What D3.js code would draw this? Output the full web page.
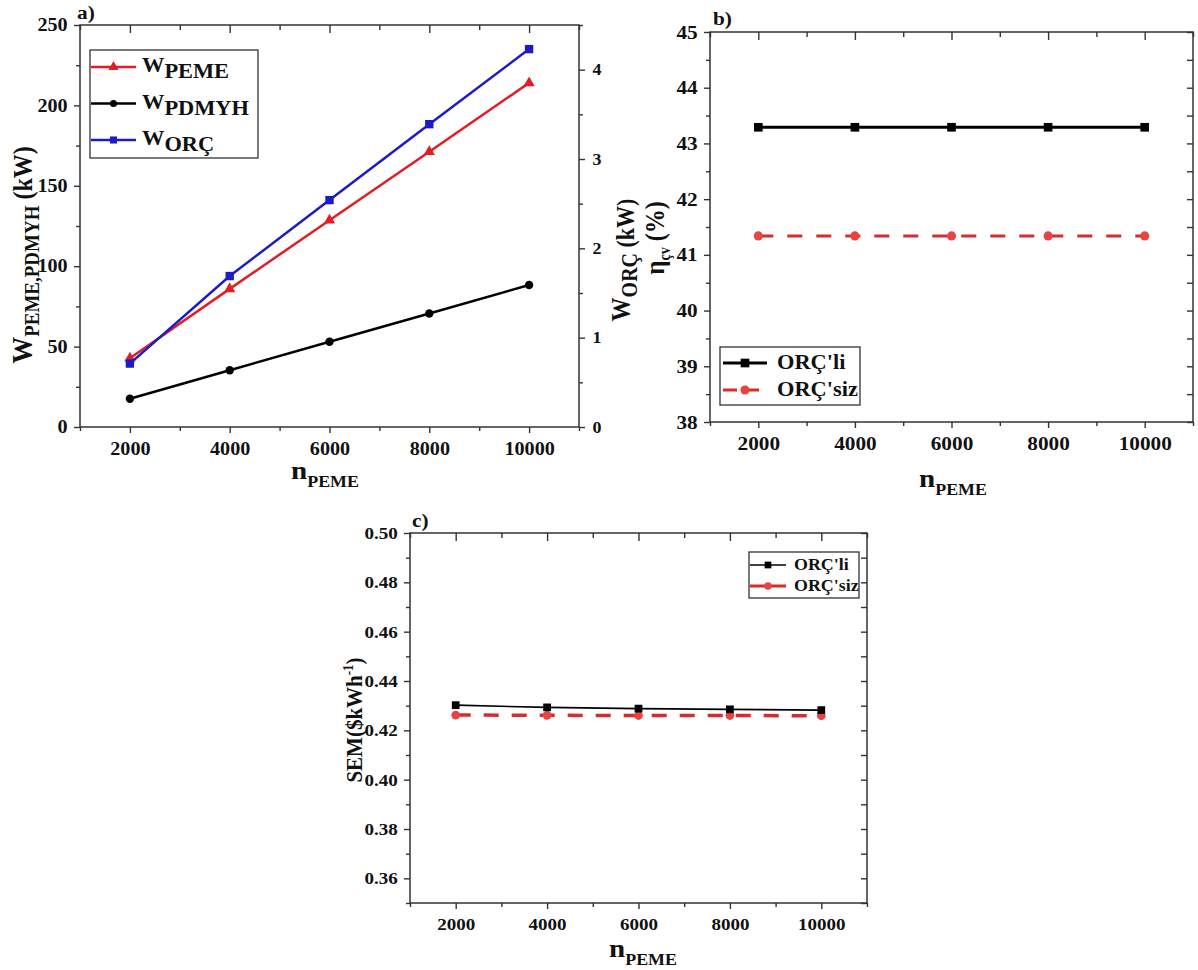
<!DOCTYPE html>
<html>
<head>
<meta charset="utf-8">
<script src="https://cdn.jsdelivr.net/npm/d3@7"></script>
<style>
    body { margin: 0; background: #fff; }
    svg { display: block; }
    text { font-family: "Liberation Serif", "Times New Roman", serif; font-weight: bold; fill: #111; }
    .axis line { stroke: #333; stroke-width: 1.4; }
    .frame { fill: none; stroke: #333; stroke-width: 1.5; }
</style>
</head>
<body>
<svg id="chart" width="1198" height="970"></svg>
<script>
// data
const nPeme = [2000, 4000, 6000, 8000, 10000];

const wPeme = [42.8, 85.9, 128.6, 171.2, 214.0];
const wPdmyh = [17.6, 35.3, 53.0, 70.6, 88.3];
const wOrc = [0.71, 1.69, 2.54, 3.39, 4.23];

const etaOrcLi = [43.29, 43.29, 43.29, 43.29, 43.29];
const etaOrcSiz = [41.34, 41.34, 41.34, 41.34, 41.34];

const semOrcLi = [0.4302, 0.4293, 0.4288, 0.4285, 0.4282];
const semOrcSiz = [0.4262, 0.4261, 0.4260, 0.4260, 0.4259];

// ticks
const xMajor = [2000, 4000, 6000, 8000, 10000];
const xMinor = [1000, 3000, 5000, 7000, 9000, 11000];
const aLeftMajor = [0, 50, 100, 150, 200, 250];
const aLeftMinor = [25, 75, 125, 175, 225];
const aRightMajor = [0, 1, 2, 3, 4];
const aRightMinor = [0.5, 1.5, 2.5, 3.5, 4.5];
const bMajor = [38, 39, 40, 41, 42, 43, 44, 45];
const bMinor = [38.5, 39.5, 40.5, 41.5, 42.5, 43.5, 44.5];
const cMajor = [0.36, 0.38, 0.40, 0.42, 0.44, 0.46, 0.48, 0.50];
const cMinor = [0.35, 0.37, 0.39, 0.41, 0.43, 0.45, 0.47, 0.49];

const RED = '#e21e24';
const RED_LIGHT = '#e84444';
const BLUE = '#1b1bc8';
const SERIF = '"Liberation Serif", "Times New Roman", serif';
const STRETCH = 1.12;

const svg = d3.select('#chart');

// text made of parts (main / subscript / superscript)
function addText(parent, x, y, parts, opts = {}) {
    const tf = opts.rotate
        ? `translate(${x},${y}) rotate(-90) scale(1,${STRETCH})`
        : `translate(${x},${y}) scale(${STRETCH},1)`;
    const t = parent.append('g').attr('transform', tf)
        .append('text').attr('text-anchor', opts.anchor || 'start');
    parts.forEach(p => {
        t.append('tspan').attr('font-size', p.size).attr('dy', p.dy || 0).text(p.t);
    });
    return t;
}

function styleTicks(sel, size) {
    sel.attr('font-family', SERIF).attr('font-weight', 'bold');
    sel.select('.domain').remove();
    sel.selectAll('text')
        .attr('font-size', size)
        .attr('fill', '#111')
        .attr('transform', `scale(${STRETCH},1)`);
}

function drawAxes(g, x, y, cfg) {
    const [x0, x1] = x.range();
    const [y0, y1] = y.range();
    const fmtX = d3.format('d');

    // bottom, outward
    g.append('g').attr('class', 'axis').attr('transform', `translate(0,${y0})`)
        .call(d3.axisBottom(x).tickValues(xMinor).tickSize(4).tickFormat(''))
        .call(s => styleTicks(s, cfg.font));
    g.append('g').attr('class', 'axis').attr('transform', `translate(0,${y0})`)
        .call(d3.axisBottom(x).tickValues(xMajor).tickSize(6).tickPadding(9).tickFormat(fmtX))
        .call(s => styleTicks(s, cfg.font));

    // top, inward
    g.append('g').attr('class', 'axis').attr('transform', `translate(0,${y1})`)
        .call(d3.axisTop(x).tickValues(xMinor).tickSize(-5).tickFormat(''))
        .call(s => styleTicks(s, cfg.font));
    g.append('g').attr('class', 'axis').attr('transform', `translate(0,${y1})`)
        .call(d3.axisTop(x).tickValues(xMajor).tickSize(-8).tickFormat(''))
        .call(s => styleTicks(s, cfg.font));

    // left, outward
    g.append('g').attr('class', 'axis').attr('transform', `translate(${x0},0)`)
        .call(d3.axisLeft(y).tickValues(cfg.yMinor).tickSize(4).tickFormat(''))
        .call(s => styleTicks(s, cfg.font));
    g.append('g').attr('class', 'axis').attr('transform', `translate(${x0},0)`)
        .call(d3.axisLeft(y).tickValues(cfg.yMajor).tickSize(6).tickPadding(5).tickFormat(cfg.yFormat))
        .call(s => styleTicks(s, cfg.font));

    // right side
    if (cfg.y2) {
        g.append('g').attr('class', 'axis').attr('transform', `translate(${x1},0)`)
            .call(d3.axisRight(cfg.y2).tickValues(aRightMinor).tickSize(4).tickFormat(''))
            .call(s => styleTicks(s, cfg.font));
        g.append('g').attr('class', 'axis').attr('transform', `translate(${x1},0)`)
            .call(d3.axisRight(cfg.y2).tickValues(aRightMajor).tickSize(6).tickPadding(6).tickFormat(d3.format('d')))
            .call(s => styleTicks(s, cfg.font - 2));
    } else {
        g.append('g').attr('class', 'axis').attr('transform', `translate(${x1},0)`)
            .call(d3.axisRight(y).tickValues(cfg.yMajor.concat(cfg.yMinor)).tickSize(-6).tickFormat(''))
            .call(s => styleTicks(s, cfg.font));
    }

    g.append('rect').attr('class', 'frame')
        .attr('x', x0).attr('y', y1)
        .attr('width', x1 - x0).attr('height', y0 - y1);
}

function drawSeries(g, x, y, values, s) {
    const pts = d3.zip(nPeme, values);
    g.append('path')
        .datum(pts)
        .attr('fill', 'none')
        .attr('stroke', s.color)
        .attr('stroke-width', s.width)
        .attr('stroke-dasharray', s.dash || null)
        .attr('d', d3.line().x(d => x(d[0])).y(d => y(d[1])));
    g.selectAll(null)
        .data(pts)
        .join('path')
        .attr('transform', d => `translate(${x(d[0])},${y(d[1])})`)
        .attr('fill', s.markColor || s.color)
        .attr('d', d3.symbol().type(s.symbol).size(s.size));
}

function drawLegend(g, box, rows) {
    g.append('rect')
        .attr('x', box.x).attr('y', box.y)
        .attr('width', box.w).attr('height', box.h)
        .attr('fill', '#fff').attr('stroke', '#333').attr('stroke-width', 1.3);
    rows.forEach((r, i) => {
        const cy = box.y + box.first + i * box.step;
        g.append('line')
            .attr('x1', box.x + box.lx0).attr('x2', box.x + box.lx1)
            .attr('y1', cy).attr('y2', cy)
            .attr('stroke', r.color).attr('stroke-width', r.width)
            .attr('stroke-dasharray', r.dash || null);
        g.append('path')
            .attr('transform', `translate(${box.x + (box.lx0 + box.lx1) / 2},${cy})`)
            .attr('fill', r.markColor || r.color)
            .attr('d', d3.symbol().type(r.symbol).size(r.size));
        addText(g, box.x + box.tx, cy + box.base, r.parts);
    });
}

// ---------- panel a ----------
const ga = svg.append('g');
const xa = d3.scaleLinear().domain([1000, 11000]).range([80, 579]);
const ya = d3.scaleLinear().domain([0, 250]).range([427, 25]);
const ya2 = d3.scaleLinear().domain([0, 4.5]).range([427, 25]);

drawAxes(ga, xa, ya, { yMajor: aLeftMajor, yMinor: aLeftMinor, y2: ya2, font: 18, yFormat: d3.format('d') });

const seriesA = [
    { values: wPeme, y: ya, color: RED, width: 2.5, symbol: d3.symbolTriangle, size: 55 },
    { values: wPdmyh, y: ya, color: '#000', width: 2.5, symbol: d3.symbolCircle, size: 55 },
    { values: wOrc, y: ya2, color: BLUE, width: 2.5, symbol: d3.symbolSquare, size: 70 }
];
seriesA.forEach(s => drawSeries(ga, xa, s.y, s.values, s));

drawLegend(ga, { x: 90, y: 50, w: 168, h: 108, first: 17, step: 36.5, lx0: 1, lx1: 46, tx: 52, base: 5 }, [
    { ...seriesA[0], size: 45, parts: [{ t: 'W', size: 20 }, { t: 'PEME', size: 20, dy: 6 }] },
    { ...seriesA[1], size: 40, parts: [{ t: 'W', size: 20 }, { t: 'PDMYH', size: 20, dy: 6 }] },
    { ...seriesA[2], size: 50, parts: [{ t: 'W', size: 20 }, { t: 'ORÇ', size: 20, dy: 6 }] }
]);

addText(ga, 77, 19, [{ t: 'a)', size: 19 }]);
addText(ga, 291, 479, [{ t: 'n', size: 26 }, { t: 'PEME', size: 16, dy: 8 }]);
addText(ga, 32, 255, [{ t: 'W', size: 27 }, { t: 'PEME,PDMYH', size: 19, dy: 6 }, { t: ' (kW)', size: 24, dy: -6 }], { rotate: true, anchor: 'middle' });
addText(ga, 630, 260, [{ t: 'W', size: 24 }, { t: 'ORÇ', size: 20, dy: 6 }, { t: ' (kW)', size: 22, dy: -2 }], { rotate: true, anchor: 'middle' });

// ---------- panel b ----------
const gb = svg.append('g');
const xb = d3.scaleLinear().domain([1000, 11000]).range([710, 1193]);
const yb = d3.scaleLinear().domain([38, 45]).range([422, 32]);

drawAxes(gb, xb, yb, { yMajor: bMajor, yMinor: bMinor, font: 19, yFormat: d3.format('d') });

const seriesB = [
    { values: etaOrcLi, color: '#000', width: 3, symbol: d3.symbolSquare, size: 75 },
    { values: etaOrcSiz, color: '#dc2a2a', markColor: RED_LIGHT, width: 3, dash: '15,14', symbol: d3.symbolCircle, size: 65 }
];
seriesB.forEach(s => drawSeries(gb, xb, yb, s.values, s));

drawLegend(gb, { x: 720, y: 347, w: 140, h: 58, first: 16, step: 27, lx0: 3, lx1: 47, tx: 57, base: 6 }, [
    { ...seriesB[0], dash: null, parts: [{ t: "ORÇ'li", size: 20 }] },
    { ...seriesB[1], dash: '14,8', parts: [{ t: "ORÇ'siz", size: 20 }] }
]);

addText(gb, 713, 25, [{ t: 'b)', size: 19 }]);
addText(gb, 919, 487, [{ t: 'n', size: 26 }, { t: 'PEME', size: 16, dy: 8 }]);
addText(gb, 664, 238, [{ t: 'η', size: 25 }, { t: 'çv', size: 14, dy: 5 }, { t: ' (%)', size: 24, dy: -5 }], { rotate: true, anchor: 'middle' });

// ---------- panel c ----------
const gc = svg.append('g');
const xc = d3.scaleLinear().domain([1000, 11000]).range([410, 867]);
const yc = d3.scaleLinear().domain([0.35, 0.50]).range([903, 533]);

drawAxes(gc, xc, yc, { yMajor: cMajor, yMinor: cMinor, font: 17, yFormat: d3.format('.2f') });

const seriesC = [
    { values: semOrcLi, color: '#000', width: 1.6, symbol: d3.symbolSquare, size: 60 },
    { values: semOrcSiz, color: '#dc2a2a', markColor: RED_LIGHT, width: 3.5, dash: '15,13', symbol: d3.symbolCircle, size: 60 }
];
// red dashed line sits under the black one
[seriesC[1], seriesC[0]].forEach(s => drawSeries(gc, xc, yc, s.values, s));

drawLegend(gc, { x: 749, y: 552, w: 110, h: 46, first: 13, step: 21, lx0: 1, lx1: 37, tx: 45, base: 5 }, [
    { ...seriesC[0], size: 45, parts: [{ t: "ORÇ'li", size: 16 }] },
    { ...seriesC[1], size: 45, dash: null, width: 3, parts: [{ t: "ORÇ'siz", size: 16 }] }
]);

addText(gc, 412, 527, [{ t: 'c)', size: 19 }]);
addText(gc, 609, 957, [{ t: 'n', size: 26 }, { t: 'PEME', size: 16, dy: 8 }]);
addText(gc, 362, 720, [{ t: 'SEM($kWh', size: 21 }, { t: '-1', size: 13, dy: -8 }, { t: ')', size: 21, dy: 8 }], { rotate: true, anchor: 'middle' });
</script>
</body>
</html>
